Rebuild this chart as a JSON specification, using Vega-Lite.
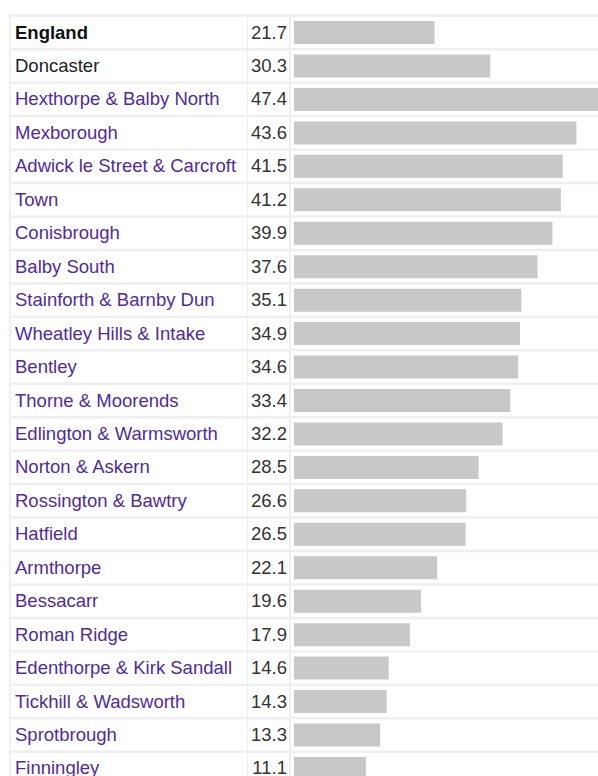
{
  "$schema": "https://vega.github.io/schema/vega-lite/v6.json",
  "padding": {"left": 9, "top": 14, "right": 0, "bottom": 0},
  "background": "white",
  "spacing": 0,
  "bounds": "flush",
  "config": {
    "view": {"fill": "#efefef", "stroke": null},
    "text": {"font": "Liberation Sans", "fontSize": 18.5}
  },
  "data": {
    "values": [
      {"area": "England", "value": 21.7, "level": "England"},
      {"area": "Doncaster", "value": 30.3, "level": "District"},
      {"area": "Hexthorpe & Balby North", "value": 47.4, "level": "Ward"},
      {"area": "Mexborough", "value": 43.6, "level": "Ward"},
      {"area": "Adwick le Street & Carcroft", "value": 41.5, "level": "Ward"},
      {"area": "Town", "value": 41.2, "level": "Ward"},
      {"area": "Conisbrough", "value": 39.9, "level": "Ward"},
      {"area": "Balby South", "value": 37.6, "level": "Ward"},
      {"area": "Stainforth & Barnby Dun", "value": 35.1, "level": "Ward"},
      {"area": "Wheatley Hills & Intake", "value": 34.9, "level": "Ward"},
      {"area": "Bentley", "value": 34.6, "level": "Ward"},
      {"area": "Thorne & Moorends", "value": 33.4, "level": "Ward"},
      {"area": "Edlington & Warmsworth", "value": 32.2, "level": "Ward"},
      {"area": "Norton & Askern", "value": 28.5, "level": "Ward"},
      {"area": "Rossington & Bawtry", "value": 26.6, "level": "Ward"},
      {"area": "Hatfield", "value": 26.5, "level": "Ward"},
      {"area": "Armthorpe", "value": 22.1, "level": "Ward"},
      {"area": "Bessacarr", "value": 19.6, "level": "Ward"},
      {"area": "Roman Ridge", "value": 17.9, "level": "Ward"},
      {"area": "Edenthorpe & Kirk Sandall", "value": 14.6, "level": "Ward"},
      {"area": "Tickhill & Wadsworth", "value": 14.3, "level": "Ward"},
      {"area": "Sprotbrough", "value": 13.3, "level": "Ward"},
      {"area": "Finningley", "value": 11.1, "level": "Ward"}
    ]
  },
  "hconcat": [
    {
      "width": 238,
      "height": 773,
      "encoding": {
        "y": {"field": "area", "type": "nominal", "sort": null, "axis": null,
              "scale": {"paddingInner": 0.073, "paddingOuter": 0.09}}
      },
      "layer": [
        {"mark": {"type": "rect", "color": "white", "xOffset": 2},
         "encoding": {"x": {"value": 0}, "x2": {"value": "width"}}},
        {
          "transform": [{"filter": "datum.level !== 'England'"}],
          "mark": {"type": "text", "align": "left", "baseline": "middle"},
          "encoding": {
            "x": {"value": 6},
            "text": {"field": "area"},
            "color": {"field": "level", "type": "nominal", "legend": null,
                      "scale": {"domain": ["England", "District", "Ward"], "range": ["#111111", "#222222", "#4d2c9f"]}}
          }
        },
        {
          "transform": [{"filter": "datum.level === 'England'"}],
          "mark": {"type": "text", "align": "left", "baseline": "middle", "fontWeight": "bold", "color": "#111111"},
          "encoding": {
            "x": {"value": 6},
            "text": {"field": "area"}
          }
        }
      ]
    },
    {
      "width": 42,
      "height": 773,
      "encoding": {
        "y": {"field": "area", "type": "nominal", "sort": null, "axis": null,
              "scale": {"paddingInner": 0.073, "paddingOuter": 0.09}}
      },
      "layer": [
        {"mark": {"type": "rect", "color": "white", "xOffset": 1},
         "encoding": {"x": {"value": 0}, "x2": {"value": "width"}}},
        {
          "mark": {"type": "text", "align": "right", "baseline": "middle", "color": "#333333"},
          "encoding": {"x": {"value": 40}, "text": {"field": "value", "type": "quantitative", "format": ".1f"}}
        }
      ]
    },
    {
      "width": 309,
      "height": 773,
      "encoding": {
        "y": {"field": "area", "type": "nominal", "sort": null, "axis": null,
              "scale": {"paddingInner": 0.073, "paddingOuter": 0.09}}
      },
      "layer": [
        {"mark": {"type": "rect", "color": "white", "xOffset": 2},
         "encoding": {"x": {"value": 0}, "x2": {"value": "width"}}},
        {
          "mark": {"type": "bar", "color": "#c8c8c8", "size": 23, "clip": true},
          "encoding": {
            "x": {"field": "value", "type": "quantitative", "axis": null,
                  "scale": {"domain": [0, 47.4], "range": [5, 312], "nice": false, "zero": true}}
          }
        }
      ]
    }
  ]
}
